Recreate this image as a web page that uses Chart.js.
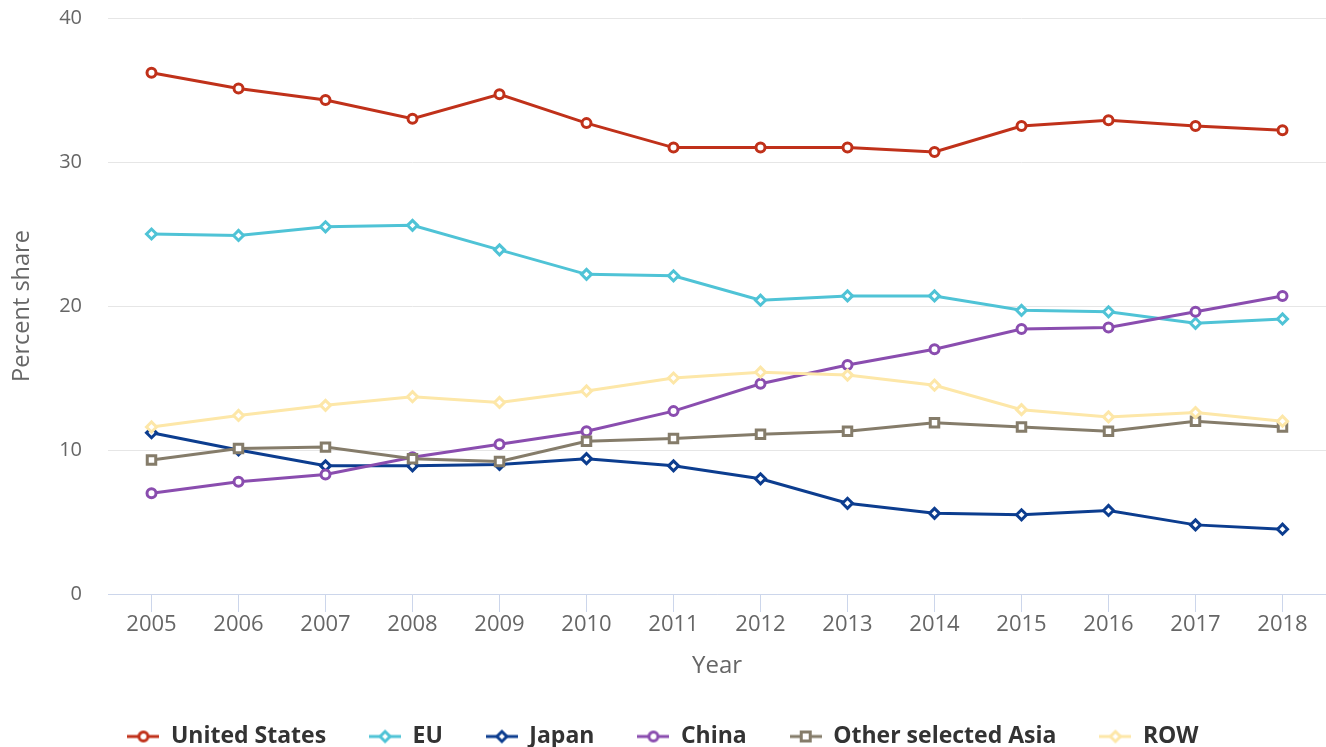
<!DOCTYPE html>
<html>
<head>
<meta charset="utf-8">
<script src="https://cdn.jsdelivr.net/npm/chart.js@4/dist/chart.umd.min.js"></script>
<style>
  html, body { margin: 0; padding: 0; background: #ffffff; }
  #wrap { position: relative; width: 1326px; height: 747px; }
</style>
</head>
<body>
<div id="wrap"><canvas id="c" width="1326" height="747"></canvas></div>
<script>
const years = ['2005','2006','2007','2008','2009','2010','2011','2012','2013','2014','2015','2016','2017','2018'];
const unitedStates = [36.2, 35.1, 34.3, 33.0, 34.7, 32.7, 31.0, 31.0, 31.0, 30.7, 32.5, 32.9, 32.5, 32.2];
const eu = [25.0, 24.9, 25.5, 25.6, 23.9, 22.2, 22.1, 20.4, 20.7, 20.7, 19.7, 19.6, 18.8, 19.1];
const japan = [11.2, 10.0, 8.9, 8.9, 9.0, 9.4, 8.9, 8.0, 6.3, 5.6, 5.5, 5.8, 4.8, 4.5];
const china = [7.0, 7.8, 8.3, 9.5, 10.4, 11.3, 12.7, 14.6, 15.9, 17.0, 18.4, 18.5, 19.6, 20.7];
const otherAsia = [9.3, 10.1, 10.2, 9.4, 9.2, 10.6, 10.8, 11.1, 11.3, 11.9, 11.6, 11.3, 12.0, 11.6];
const row = [11.6, 12.4, 13.1, 13.7, 13.3, 14.1, 15.0, 15.4, 15.2, 14.5, 12.8, 12.3, 12.6, 12.0];
const seriesNames = ['United States', 'EU', 'Japan', 'China', 'Other selected Asia', 'ROW'];
const seriesValues = [unitedStates, eu, japan, china, otherAsia, row];
const seriesColors = ['#c0311a', '#4fc3d6', '#0c3d8f', '#8a4daf', '#857c6a', '#fde7a8'];
const seriesMarkers = ['circle', 'rectRot', 'rectRot', 'circle', 'rect', 'rectRot'];
const yTicks = [0, 10, 20, 30, 40];

const FONT = "'Open Sans', 'DejaVu Sans', sans-serif";

function markerRadius(style) {
  if (style === 'circle') return 4.5;
  if (style === 'rectRot') return 5;
  return 6;
}

function drawMarker(ctx, style, x, y, color) {
  ctx.save();
  ctx.fillStyle = '#ffffff';
  ctx.strokeStyle = color;
  ctx.lineWidth = 3;
  ctx.beginPath();
  if (style === 'circle') {
    ctx.arc(x, y, 4.5, 0, Math.PI * 2);
  } else if (style === 'rectRot') {
    const r = 5;
    ctx.moveTo(x, y - r); ctx.lineTo(x + r, y); ctx.lineTo(x, y + r); ctx.lineTo(x - r, y); ctx.closePath();
  } else {
    const h = 4.5;
    ctx.rect(x - h, y - h, 2 * h, 2 * h);
  }
  ctx.fill();
  ctx.stroke();
  ctx.restore();
}

function legendSymbol(color, style) {
  const cv = document.createElement('canvas');
  cv.width = 32; cv.height = 16;
  const ctx = cv.getContext('2d');
  ctx.strokeStyle = color;
  ctx.lineWidth = 3;
  ctx.beginPath();
  ctx.moveTo(0, 8); ctx.lineTo(32, 8);
  ctx.stroke();
  drawMarker(ctx, style, 16, 8, color);
  return cv;
}

const datasets = seriesNames.map((name, i) => ({
  label: name,
  data: seriesValues[i],
  borderColor: seriesColors[i],
  backgroundColor: '#ffffff',
  borderWidth: 3,
  pointStyle: seriesMarkers[i],
  pointRadius: markerRadius(seriesMarkers[i]),
  pointHoverRadius: markerRadius(seriesMarkers[i]),
  pointBorderWidth: 3,
  pointBorderColor: seriesColors[i],
  pointBackgroundColor: '#ffffff',
  tension: 0,
  clip: false,
  order: seriesNames.length - i
}));

const symbols = seriesNames.map((n, i) => legendSymbol(seriesColors[i], seriesMarkers[i]));

new Chart(document.getElementById('c'), {
  type: 'line',
  data: { labels: years, datasets },
  options: {
    responsive: false,
    animation: false,
    events: [],
    layout: { autoPadding: false, padding: { top: 18, right: 0, bottom: -11, left: 0 } },
    plugins: {
      tooltip: { enabled: false },
      legend: {
        position: 'bottom',
        align: 'center',
        labels: {
          usePointStyle: true,
          pointStyleWidth: 32,
          padding: 43,
          color: '#333333',
          font: { family: FONT, size: 23, weight: 'bold' },
          generateLabels: (chart) => seriesNames.map((n, i) => ({
            text: n,
            pointStyle: symbols[i],
            fillStyle: seriesColors[i],
            strokeStyle: seriesColors[i],
            lineWidth: 0,
            hidden: false,
            datasetIndex: i,
            fontColor: '#333333'
          }))
        }
      }
    },
    scales: {
      x: {
        type: 'category',
        offset: true,
        afterFit: (s) => { s.height = 88; },
        grid: {
          offset: false,
          drawOnChartArea: false,
          drawTicks: true,
          tickLength: 18,
          tickWidth: 1,
          tickColor: '#ccd6eb'
        },
        border: { display: true, color: '#ccd6eb', width: 1 },
        ticks: {
          color: '#666666',
          padding: 0,
          maxRotation: 0,
          autoSkip: false,
          font: { family: FONT, size: 22 }
        },
        title: {
          display: true,
          text: 'Year',
          color: '#666666',
          font: { family: FONT, size: 24 },
          padding: { top: 0, bottom: 1 }
        }
      },
      y: {
        min: 0,
        max: 40,
        afterFit: (s) => { s.width = 108; },
        afterBuildTicks: (s) => { s.ticks = yTicks.map(v => ({ value: v })); },
        grid: { color: '#e6e6e6', lineWidth: 1, drawTicks: true, tickLength: 26, tickColor: 'rgba(0,0,0,0)' },
        border: { display: false },
        ticks: {
          color: '#666666',
          padding: 0,
          font: { family: FONT, size: 20 }
        },
        title: {
          display: true,
          text: 'Percent share',
          color: '#666666',
          font: { family: FONT, size: 23.5 },
          padding: { top: 8, bottom: 0 }
        }
      }
    }
  }
});
</script>
</body>
</html>
